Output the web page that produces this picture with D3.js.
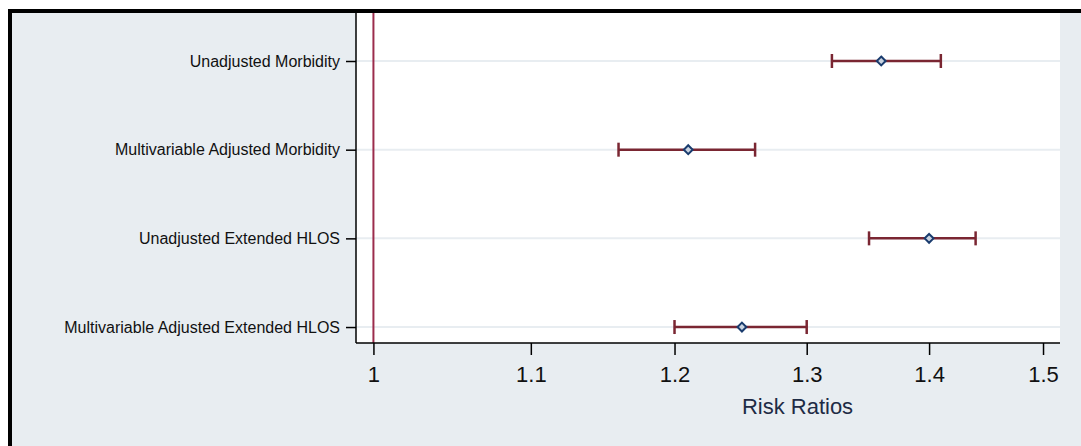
<!DOCTYPE html>
<html>
<head>
<meta charset="utf-8">
<script src="https://cdn.jsdelivr.net/npm/d3@7"></script>
<style>
html,body{margin:0;padding:0;background:#fff;}
svg{display:block;}
text{font-family:"Liberation Sans",Arial,sans-serif;}
</style>
</head>
<body>
<svg id="chart" width="1081" height="446"></svg>
<script>
const categories = ["Unadjusted Morbidity","Multivariable Adjusted Morbidity","Unadjusted Extended HLOS","Multivariable Adjusted Extended HLOS"];
const estimates = [1.36, 1.21, 1.40, 1.25];
const lowerCI = [1.32, 1.16, 1.35, 1.20];
const upperCI = [1.41, 1.26, 1.44, 1.30];
const xTicks = [1, 1.1, 1.2, 1.3, 1.4, 1.5];
const xTickLabels = ["1","1.1","1.2","1.3","1.4","1.5"];
const xTitle = "Risk Ratios";
const refValue = 1;

const svg = d3.select("#chart");
const W = 1081, H = 446;
const bg = "#e8edf1";

// outer frame
svg.append("rect").attr("x",8).attr("y",9).attr("width",W-8).attr("height",H-9).attr("fill",bg);
svg.append("line").attr("x1",8).attr("x2",W).attr("y1",11).attr("y2",11).attr("stroke","#000").attr("stroke-width",4);
svg.append("line").attr("x1",10).attr("x2",10).attr("y1",9).attr("y2",H).attr("stroke","#000").attr("stroke-width",4);

const plot = {left:356, right:1060, top:13, bottom:343};
svg.append("rect").attr("x",plot.left).attr("y",plot.top)
  .attr("width",plot.right-plot.left).attr("height",plot.bottom-plot.top).attr("fill","#fff");

const x = d3.scaleLog().domain([0.9895, 1.5155]).range([plot.left, plot.right]);
const y = d3.scaleLinear().domain([0.4587, 4.18]).range([plot.top, plot.bottom]);
const rows = categories.map((c,i)=>({cat:c, pos:i+1, est:estimates[i], lo:lowerCI[i], hi:upperCI[i]}));

// gridlines
svg.append("g").selectAll("line").data(rows).join("line")
  .attr("x1",plot.left).attr("x2",plot.right)
  .attr("y1",d=>y(d.pos)).attr("y2",d=>y(d.pos))
  .attr("stroke",bg).attr("stroke-width",2);

// reference line
svg.append("line").attr("x1",x(refValue)).attr("x2",x(refValue))
  .attr("y1",plot.top).attr("y2",plot.bottom)
  .attr("stroke","#9b2c4c").attr("stroke-width",2);

// y axis
const yAxis = d3.axisLeft(y).tickValues(rows.map(d=>d.pos))
  .tickFormat((d,i)=>categories[i]).tickSize(10).tickPadding(6);
const gy = svg.append("g").attr("transform",`translate(${plot.left},0)`).call(yAxis);
gy.select(".domain").attr("d",`M0,${plot.top}V${plot.bottom}`).attr("stroke","#000").attr("stroke-width",1.5);
gy.selectAll(".tick line").attr("stroke","#000").attr("stroke-width",1.5);
gy.selectAll(".tick text").attr("font-size",16).attr("fill","#111").attr("font-family","Liberation Sans, Arial, sans-serif");

// x axis
const xAxis = d3.axisBottom(x).tickValues(xTicks).tickFormat((d,i)=>xTickLabels[i]).tickSize(12).tickPadding(11);
const gx = svg.append("g").attr("transform",`translate(0,${plot.bottom})`).call(xAxis);
gx.select(".domain").attr("d",`M${plot.left},0H${plot.right}`).attr("stroke","#000").attr("stroke-width",1.5);
gx.selectAll(".tick line").attr("stroke","#000").attr("stroke-width",1.5);
gx.selectAll(".tick text").attr("font-size",22).attr("fill","#111").attr("font-family","Liberation Sans, Arial, sans-serif");

svg.append("text").attr("x",(plot.left+plot.right)/2 + 89.5).attr("y",414)
  .attr("text-anchor","middle").attr("font-size",22).attr("fill","#1e2b45").text(xTitle);

// CI lines
const ciColor = "#7a2632";
const g = svg.append("g");
g.selectAll(".ci").data(rows).join("line").attr("class","ci")
  .attr("x1",d=>x(d.lo)).attr("x2",d=>x(d.hi))
  .attr("y1",d=>y(d.pos)).attr("y2",d=>y(d.pos))
  .attr("stroke",ciColor).attr("stroke-width",2.5);
g.selectAll(".capl").data(rows).join("line").attr("class","capl")
  .attr("x1",d=>x(d.lo)).attr("x2",d=>x(d.lo))
  .attr("y1",d=>y(d.pos)-7).attr("y2",d=>y(d.pos)+7)
  .attr("stroke",ciColor).attr("stroke-width",2.5);
g.selectAll(".capr").data(rows).join("line").attr("class","capr")
  .attr("x1",d=>x(d.hi)).attr("x2",d=>x(d.hi))
  .attr("y1",d=>y(d.pos)-7).attr("y2",d=>y(d.pos)+7)
  .attr("stroke",ciColor).attr("stroke-width",2.5);

// diamonds
const sym = d3.symbol().type(d3.symbolDiamond2).size(50);
g.selectAll(".pt").data(rows).join("path").attr("class","pt")
  .attr("transform",d=>`translate(${x(d.est)},${y(d.pos)})`)
  .attr("d",sym).attr("fill","#c9d3e0").attr("stroke","#1a3c6e").attr("stroke-width",2);
</script>
</body>
</html>
